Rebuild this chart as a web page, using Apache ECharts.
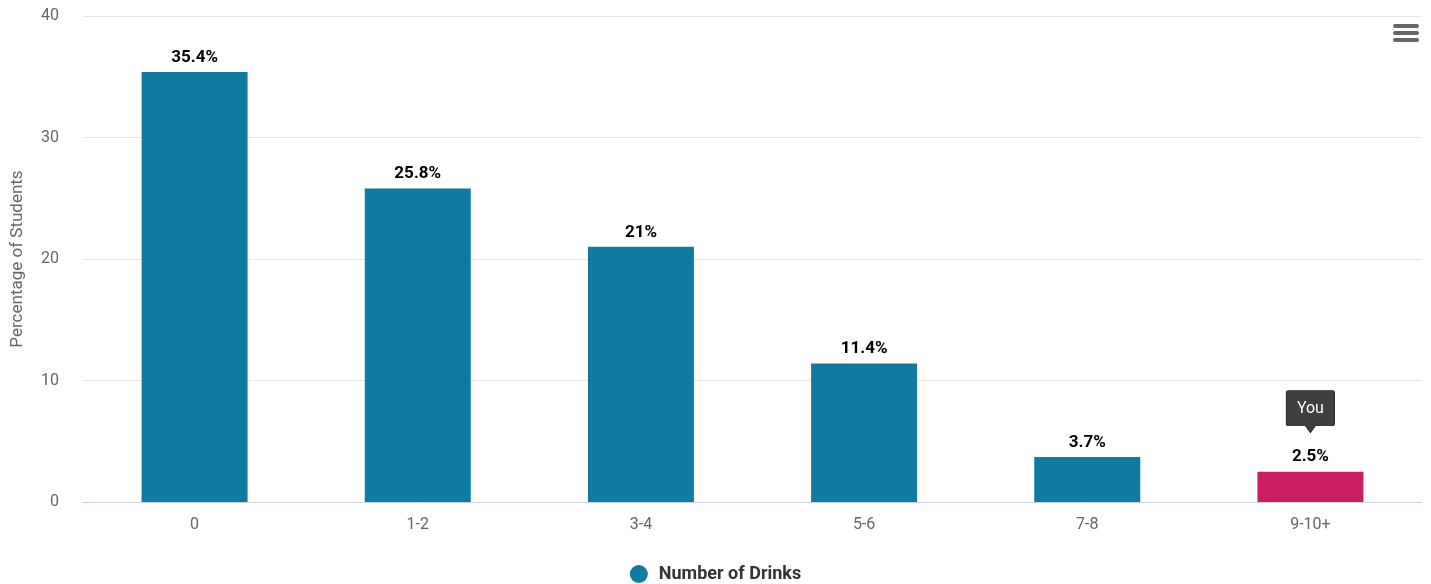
<!DOCTYPE html>
<html>
<head>
<meta charset="utf-8">
<script src="https://cdn.jsdelivr.net/npm/echarts@6/dist/echarts.min.js"></script>
<style>
html,body{margin:0;padding:0;background:#fff;}
#chart{width:1431px;height:584px;}
</style>
</head>
<body>
<div id="chart"></div>
<script>
const categories = ['0', '1-2', '3-4', '5-6', '7-8', '9-10+'];
const values = [35.4, 25.8, 21, 11.4, 3.7, 2.5];
const youCategory = '9-10+';
const seriesName = 'Number of Drinks';
const yAxisTitle = 'Percentage of Students';
const calloutText = 'You';

const BLUE = '#0f7ba1';
const PINK = '#c91f61';
const FONT = 'Roboto, "Liberation Sans", sans-serif';

const chart = echarts.init(document.getElementById('chart'));

const data = categories.map((c, i) => ({
  value: values[i],
  itemStyle: { color: c === youCategory ? PINK : BLUE }
}));

chart.setOption({
  animation: false,
  textStyle: { fontFamily: FONT },
  grid: { left: 83, right: 9, top: 16, bottom: 82, outerBoundsMode: 'none', containLabel: false },
  legend: {
    top: 565,
    left: 'center',
    icon: 'circle',
    itemWidth: 18,
    itemHeight: 18,
    itemGap: 10,
    padding: 0,
    textStyle: { fontFamily: FONT, fontSize: 18, fontWeight: 'bold', color: '#333', padding: [0, 0, 0, 6] },
    data: [seriesName]
  },
  xAxis: {
    type: 'category',
    data: categories,
    axisLine: { lineStyle: { color: '#ccd6eb', width: 1 } },
    axisTick: { show: false },
    axisLabel: { color: '#666', fontSize: 16, margin: 15, fontFamily: FONT }
  },
  yAxis: {
    type: 'value',
    min: 0,
    max: 40,
    interval: 10,
    name: yAxisTitle,
    nameLocation: 'middle',
    nameGap: 57,
    nameTextStyle: { color: '#666', fontSize: 17, fontFamily: FONT },
    axisLine: { show: false },
    axisTick: { show: false },
    axisLabel: { color: '#666', fontSize: 16, margin: 24, fontFamily: FONT },
    splitLine: { lineStyle: { color: '#e6e6e6', width: 1 } }
  },
  series: [{
    name: seriesName,
    type: 'bar',
    barWidth: '47.5%',
    itemStyle: { color: BLUE },
    data: data,
    label: {
      show: true,
      position: 'top',
      distance: 6,
      formatter: p => p.value + '%',
      fontFamily: FONT,
      fontSize: 17,
      fontWeight: 'bold',
      color: '#000',
      textBorderColor: '#fff',
      textBorderWidth: 1
    },
    markPoint: {
      silent: true,
      data: [{
        coord: [youCategory, values[categories.indexOf(youCategory)]],
        symbol: 'path://M2,0 L46,0 Q48,0 48,2 L48,33 Q48,35 46,35 L29,35 L24,42 L19,35 L2,35 Q0,35 0,33 L0,2 Q0,0 2,0 Z',
        symbolSize: [48, 42],
        symbolKeepAspect: false,
        symbolOffset: [0, -60],
        itemStyle: { color: '#3f3f3f', borderColor: '#2a2a2a', borderWidth: 1 },
        label: {
          show: true,
          formatter: calloutText,
          position: 'inside',
          offset: [0, -3],
          color: '#fff',
          fontSize: 16,
          fontFamily: FONT
        }
      }]
    }
  }],
  graphic: [
    { type: 'rect', left: 1393, top: 24, shape: { width: 26, height: 4, r: 2 }, style: { fill: '#666' } },
    { type: 'rect', left: 1393, top: 31, shape: { width: 26, height: 4, r: 2 }, style: { fill: '#666' } },
    { type: 'rect', left: 1393, top: 38, shape: { width: 26, height: 4, r: 2 }, style: { fill: '#666' } }
  ]
});
</script>
</body>
</html>
